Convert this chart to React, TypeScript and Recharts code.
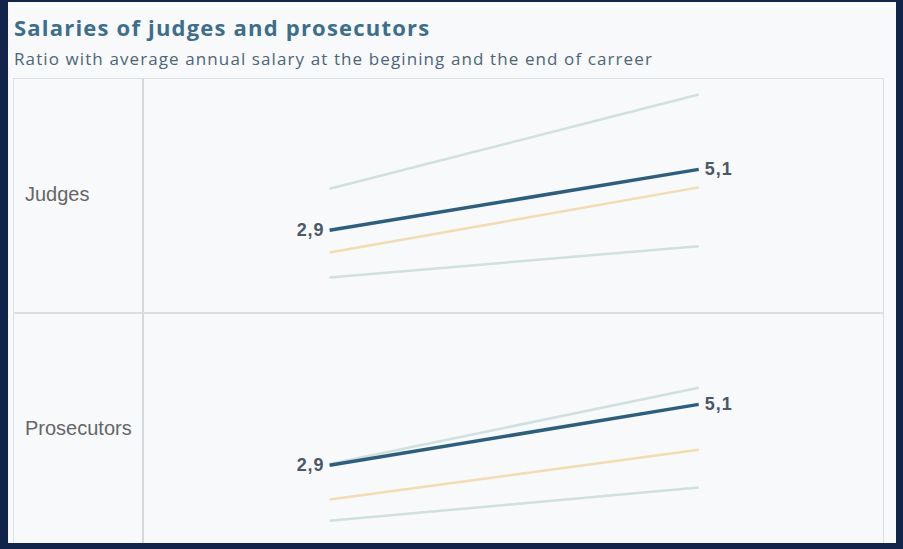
import React from "react";
import { LineChart, Line, XAxis, YAxis, LabelList } from "recharts";

const stages = ["Beginning", "End"];
const rows = ["Judges", "Prosecutors"];

// ratio to average annual salary, per row: [beginning, end]
const judgesHigh = [4.4, 7.8];
const judgesMain = [2.9, 5.1];
const judgesMid = [2.1, 4.45];
const judgesLow = [1.2, 2.33];

const prosHigh = [2.95, 5.7];
const prosMain = [2.9, 5.1];
const prosMid = [1.67, 3.46];
const prosLow = [0.9, 2.1];

const seriesByRow = [
  { high: judgesHigh, main: judgesMain, mid: judgesMid, low: judgesLow },
  { high: prosHigh, main: prosMain, mid: prosMid, low: prosLow },
];

const DARK = "#2c5f7f";
const LIGHT = "#cfe0de";
const ORANGE = "#f3dcb0";

function buildData(i: number) {
  const s = seriesByRow[i];
  return stages.map((stage, k) => ({
    stage,
    high: s.high[k],
    main: s.main[k],
    mid: s.mid[k],
    low: s.low[k],
  }));
}

const renderValue = (props: any) => {
  const { x, y, value, index } = props;
  const first = index === 0;
  return (
    <text
      x={first ? x - 5 : x + 6}
      y={y}
      dy={6}
      textAnchor={first ? "end" : "start"}
      fontSize={18}
      fontWeight={700}
      letterSpacing={1}
      fill="#4a5868"
      fontFamily="Liberation Sans, Arial, sans-serif"
    >
      {String(value).replace(".", ",")}
    </text>
  );
};

function RowChart({ index }: { index: number }) {
  const data = buildData(index);
  return (
    <LineChart
      width={741}
      height={232}
      data={data}
      margin={{ top: 0, right: 0, bottom: 0, left: 0 }}
    >
      <XAxis dataKey="stage" hide padding={{ left: 186, right: 185 }} />
      <YAxis hide domain={[0, 8.35]} />
      <Line dataKey="high" stroke={LIGHT} strokeWidth={2.5} dot={false} isAnimationActive={false} />
      <Line dataKey="low" stroke={LIGHT} strokeWidth={2.5} dot={false} isAnimationActive={false} />
      <Line dataKey="mid" stroke={ORANGE} strokeWidth={2.5} dot={false} isAnimationActive={false} />
      <Line dataKey="main" stroke={DARK} strokeWidth={3.5} dot={false} isAnimationActive={false}>
        <LabelList dataKey="main" content={renderValue} />
      </Line>
    </LineChart>
  );
}

export default function App() {
  return (
    <div
      style={{
        position: "absolute",
        left: 0,
        top: 0,
        width: 903,
        height: 549,
        background: "#13244a",
        overflow: "hidden",
      }}
    >
      <div
        style={{
          position: "absolute",
          left: 8,
          top: 2,
          width: 888,
          height: 541,
          background: "#f7f9fb",
          overflow: "hidden",
        }}
      >
        <div
          style={{
            position: "absolute",
            left: 6,
            top: 10,
            fontFamily: "Open Sans, sans-serif",
            fontWeight: 700,
            fontSize: 22,
            letterSpacing: 1.2,
            color: "#3d6e8c",
            whiteSpace: "nowrap",
          }}
        >
          Salaries of judges and prosecutors
        </div>
        <div
          style={{
            position: "absolute",
            left: 6,
            top: 45,
            fontFamily: "Open Sans, sans-serif",
            fontSize: 17,
            letterSpacing: 1.1,
            color: "#4d6577",
            whiteSpace: "nowrap",
          }}
        >
          Ratio with average annual salary at the begining and the end of carreer
        </div>
        <div
          style={{
            position: "absolute",
            left: 5,
            top: 76,
            width: 871,
            height: 480,
            border: "1px solid #dcdfe2",
            boxSizing: "border-box",
          }}
        >
          {rows.map((r, i) => (
            <div
              key={r}
              style={{
                display: "flex",
                height: 233,
                borderTop: i > 0 ? "2px solid #dcdfe2" : "none",
              }}
            >
              <div
                style={{
                  width: 128,
                  borderRight: "2px solid #d6d9dc",
                  position: "relative",
                  fontFamily: "Liberation Sans, Arial, sans-serif",
                  fontSize: 20,
                  color: "#666",
                }}
              >
                <div style={{ position: "absolute", left: 11, top: i === 0 ? 104 : 103 }}>{r}</div>
              </div>
              <RowChart index={i} />
            </div>
          ))}
        </div>
      </div>
    </div>
  );
}
